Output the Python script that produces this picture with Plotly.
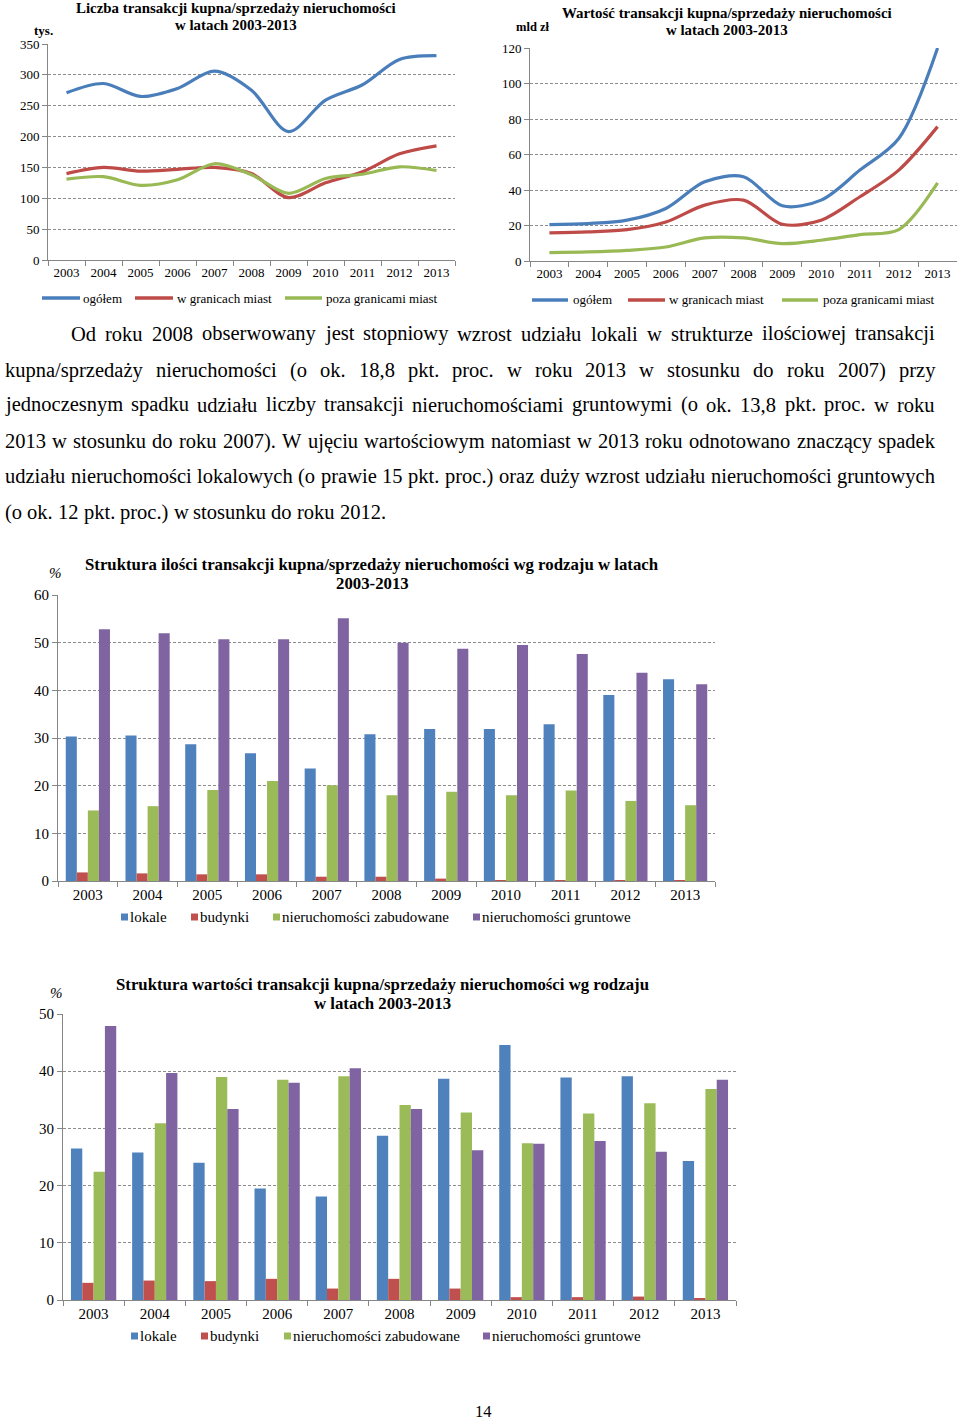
import plotly.graph_objects as go

W, H = 960, 1422
years = [str(y) for y in range(2003, 2014)]

# Chart 1: Liczba transakcji (tys.)
cnt_total = [271, 286, 265, 278, 306, 275, 208, 259, 284, 325, 331]
cnt_city = [140, 150, 144, 147, 150, 140, 101, 125, 143, 172, 185]
cnt_outside = [131, 135, 121, 130, 156, 138, 108, 132, 139, 151, 145]

# Chart 2: Wartość transakcji (mld zł)
val_total = [20.5, 21.1, 23.0, 29.6, 44.6, 47.5, 31.1, 34.3, 51.2, 69.0, 120.0]
val_city = [15.8, 16.4, 17.7, 22.0, 31.5, 34.3, 20.7, 23.0, 36.2, 51.2, 75.7]
val_outside = [4.7, 5.1, 6.0, 7.9, 13.0, 13.0, 9.8, 11.7, 14.9, 17.7, 44.0]

# Chart 3: Struktura ilości (%)
q_lokale = [30.3, 30.5, 28.7, 26.8, 23.6, 30.8, 31.9, 31.9, 32.9, 39.0, 42.3]
q_budynki = [1.8, 1.6, 1.4, 1.4, 0.9, 0.9, 0.5, 0.2, 0.2, 0.2, 0.2]
q_zabud = [14.8, 15.7, 19.1, 21.0, 20.1, 18.0, 18.7, 18.0, 19.0, 16.8, 15.9]
q_grunt = [52.8, 52.0, 50.7, 50.7, 55.1, 50.0, 48.7, 49.5, 47.6, 43.7, 41.3]

# Chart 4: Struktura wartości (%)
v_lokale = [26.5, 25.8, 24.0, 19.5, 18.1, 28.7, 38.7, 44.6, 38.9, 39.1, 24.3]
v_budynki = [3.0, 3.4, 3.3, 3.7, 2.0, 3.7, 2.0, 0.5, 0.5, 0.6, 0.2]
v_zabud = [22.4, 30.9, 39.0, 38.5, 39.1, 34.1, 32.8, 27.4, 32.6, 34.4, 36.9]
v_grunt = [47.9, 39.7, 33.4, 38.0, 40.5, 33.4, 26.2, 27.3, 27.8, 25.9, 38.5]

line_names = ["ogółem", "w granicach miast", "poza granicami miast"]
bar_names = ["lokale", "budynki", "nieruchomości zabudowane", "nieruchomości gruntowe"]

paragraph_lines = [
    "Od roku 2008 obserwowany jest stopniowy wzrost udziału lokali w strukturze ilościowej transakcji",
    "kupna/sprzedaży nieruchomości (o ok. 18,8 pkt. proc. w roku 2013 w stosunku do roku 2007) przy",
    "jednoczesnym spadku udziału liczby transakcji nieruchomościami gruntowymi (o ok. 13,8 pkt. proc. w roku",
    "2013 w stosunku do roku 2007). W ujęciu wartościowym natomiast w 2013 roku odnotowano znaczący spadek",
    "udziału nieruchomości lokalowych (o prawie 15 pkt. proc.) oraz duży wzrost udziału nieruchomości gruntowych",
    "(o ok. 12 pkt. proc.) w stosunku do roku 2012.",
]

LINE_COLORS = ["#4A7EBB", "#BE4B48", "#98B954"]
BAR_COLORS = ["#4F81BD", "#C0504D", "#9BBB59", "#8064A2"]
FONT = "Liberation Serif"
GRID = "#8C8C8C"
AXIS = "#868686"


def px(x):
    return x / W


def py(y):
    return 1 - y / H


fig = go.Figure()

for i, (name, vals) in enumerate(zip(line_names, [cnt_total, cnt_city, cnt_outside])):
    fig.add_trace(go.Scatter(x=years, y=vals, mode="lines", name=name,
                             line=dict(color=LINE_COLORS[i], width=3.2, shape="spline", smoothing=0.9),
                             xaxis="x", yaxis="y", showlegend=False))
for i, (name, vals) in enumerate(zip(line_names, [val_total, val_city, val_outside])):
    fig.add_trace(go.Scatter(x=years, y=vals, mode="lines", name=name,
                             line=dict(color=LINE_COLORS[i], width=3.2, shape="spline", smoothing=0.9),
                             xaxis="x2", yaxis="y2", showlegend=False))
for i, (name, vals) in enumerate(zip(bar_names, [q_lokale, q_budynki, q_zabud, q_grunt])):
    fig.add_trace(go.Bar(x=years, y=vals, name=name, marker=dict(color=BAR_COLORS[i], line=dict(width=0)),
                         xaxis="x3", yaxis="y3", showlegend=False, offsetgroup=str(i)))
for i, (name, vals) in enumerate(zip(bar_names, [v_lokale, v_budynki, v_zabud, v_grunt])):
    fig.add_trace(go.Bar(x=years, y=vals, name=name, marker=dict(color=BAR_COLORS[i], line=dict(width=0)),
                         xaxis="x4", yaxis="y4", showlegend=False, offsetgroup=str(i)))


def xax(domain, anchor, size):
    return dict(domain=domain, anchor=anchor, type="category", range=[-0.5, 10.5],
                tickson="boundaries", ticks="outside", ticklen=5, tickcolor=AXIS,
                showline=True, linecolor=AXIS, linewidth=1, showgrid=False, zeroline=False,
                automargin=False,
                tickfont=dict(family=FONT, size=size, color="black"), fixedrange=True)


def yax(domain, anchor, rng, dtick, size):
    return dict(domain=domain, anchor=anchor, range=rng, dtick=dtick, tick0=0,
                ticks="outside", ticklen=5, tickcolor=AXIS, showline=True, linecolor=AXIS,
                linewidth=1, showgrid=True, gridcolor=GRID, griddash="3px,2px", gridwidth=1,
                zeroline=False, automargin=False,
                tickfont=dict(family=FONT, size=size, color="black"), fixedrange=True)


fig.update_layout(
    template="none",
    width=W, height=H, autosize=False,
    margin=dict(l=0, r=0, t=0, b=0, pad=0, autoexpand=False),
    paper_bgcolor="white", plot_bgcolor="white",
    barmode="group", bargap=0.26, bargroupgap=0,
    xaxis=xax([px(48), px(455)], "y", 13),
    yaxis=yax([py(260), py(44)], "x", [0, 350], 50, 13),
    xaxis2=xax([px(530), px(957)], "y2", 13),
    yaxis2=yax([py(261), py(48)], "x2", [0, 120], 20, 13),
    xaxis3=xax([px(58), px(715)], "y3", 15),
    yaxis3=yax([py(881), py(595)], "x3", [0, 60], 10, 15),
    xaxis4=xax([px(63), px(736)], "y4", 15),
    yaxis4=yax([py(1300), py(1014)], "x4", [0, 50], 10, 15),
)

ann = []
shapes = []


def text(x, y, s, size, xanchor="center", bold=False, italic=False):
    t = s
    if bold:
        t = "<b>" + t + "</b>"
    if italic:
        t = "<i>" + t + "</i>"
    ann.append(dict(x=px(x), y=py(y), xref="paper", yref="paper", text=t, showarrow=False,
                    xanchor=xanchor, yanchor="middle", borderpad=0,
                    font=dict(family=FONT, size=size, color="black")))


text(236, 8, "Liczba transakcji kupna/sprzedaży nieruchomości", 14.9, bold=True)
text(236, 25, "w latach 2003-2013", 14.9, bold=True)
text(33, 31, "tys.", 13, xanchor="left", bold=True)
text(727, 13, "Wartość transakcji kupna/sprzedaży nieruchomości", 14.9, bold=True)
text(727, 30, "w latach 2003-2013", 14.9, bold=True)
text(515, 27, "mld zł", 12.5, xanchor="left", bold=True)
text(372, 564, "Struktura ilości transakcji kupna/sprzedaży nieruchomości wg rodzaju w latach", 16.8, bold=True)
text(372, 583, "2003-2013", 16.8, bold=True)
text(48, 573, "%", 15, xanchor="left", italic=True)
text(382, 984, "Struktura wartości transakcji kupna/sprzedaży nieruchomości wg rodzaju", 16.8, bold=True)
text(382, 1003, "w latach 2003-2013", 16.8, bold=True)
text(49, 993, "%", 15, xanchor="left", italic=True)
text(483, 1411, "14", 16.5)

for (x0, x1, tx), nm, col in zip([(42, 80, 82), (135, 173, 176), (285, 322, 325)], line_names, LINE_COLORS):
    shapes.append(dict(type="line", xref="paper", yref="paper", x0=px(x0), x1=px(x1), y0=py(298), y1=py(298),
                       line=dict(color=col, width=3.5)))
    text(tx, 298, nm, 13, xanchor="left")
for (x0, x1, tx), nm, col in zip([(532, 568, 572), (628, 665, 668), (782, 818, 822)], line_names, LINE_COLORS):
    shapes.append(dict(type="line", xref="paper", yref="paper", x0=px(x0), x1=px(x1), y0=py(300), y1=py(300),
                       line=dict(color=col, width=3.5)))
    text(tx, 300, nm, 13, xanchor="left")

for ly, xs in [(917, [121, 191, 273, 473]), (1336, [131, 201, 284, 483])]:
    for x0, nm, col in zip(xs, bar_names, BAR_COLORS):
        shapes.append(dict(type="rect", xref="paper", yref="paper", x0=px(x0), x1=px(x0 + 7),
                           y0=py(ly + 3.5), y1=py(ly - 3.5), fillcolor=col, line=dict(width=0)))
        text(x0 + 8, ly, nm, 15, xanchor="left")

MET = {}
for ch, w in zip("abcdefghijklmnopqrstuvwxyz",
                 [444, 500, 444, 500, 444, 333, 500, 500, 278, 278, 500, 278, 778, 500, 500, 500, 500, 333, 389,
                  278, 500, 500, 722, 500, 500, 444]):
    MET[ch] = w
MET.update({"ą": 444, "ć": 444, "ę": 444, "ł": 278, "ń": 500, "ó": 500, "ś": 389, "ź": 444, "ż": 444,
            "O": 722, "W": 944, ".": 250, ",": 250, "(": 333, ")": 333, "/": 278, " ": 250})
for d in "0123456789":
    MET[d] = 500
PSIZE = 20.5


def tw(s):
    return sum(MET.get(c, 500) for c in s) / 1000 * PSIZE


line_y = [334, 370, 405, 441, 476, 512]
for i, (ln, yy) in enumerate(zip(paragraph_lines, line_y)):
    words = ln.split(" ")
    left = 70 if i == 0 else 4
    right = 934
    if i == len(paragraph_lines) - 1:
        gap = tw(" ")
    else:
        gap = (right - left - sum(tw(w) for w in words)) / (len(words) - 1)
    x = left
    for w in words:
        text(x, yy, w, PSIZE, xanchor="left")
        x += tw(w) + gap

fig.update_layout(annotations=ann, shapes=shapes)
fig.write_html("out.html", config={"displayModeBar": False},
               post_script="document.body.style.margin='0';")
